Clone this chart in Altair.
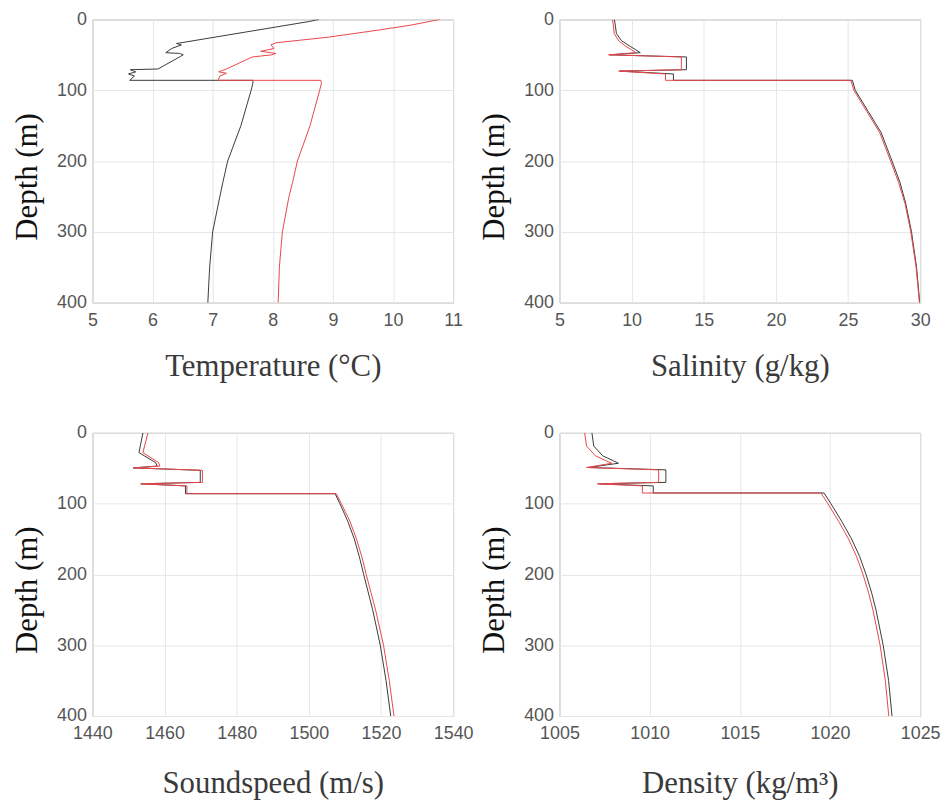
import altair as alt
import pandas as pd

# ---------------- data ----------------
# Temperature (°C)
temp_depth_black = [0, 3, 34, 36, 41, 47, 48, 50, 53, 70, 71, 74, 77, 80, 86, 86, 90, 100, 150, 200, 230, 250, 300, 350, 400]
temp_black = [8.77, 8.6, 6.40, 6.48, 6.32, 6.22, 6.45, 6.51, 6.45, 6.09, 5.63, 5.72, 5.60, 5.70, 5.62, 7.67, 7.67, 7.64, 7.47, 7.25, 7.17, 7.12, 7.00, 6.95, 6.92]
temp_depth_red = [0, 8, 15, 25, 33, 36, 41, 45, 48, 50, 53, 70, 74, 76, 80, 86, 86, 90, 100, 150, 200, 230, 250, 300, 350, 400]
temp_red = [10.78, 10.3, 9.76, 8.93, 8.05, 7.97, 8.02, 7.80, 8.05, 7.98, 7.66, 7.23, 7.10, 7.23, 7.12, 7.09, 8.80, 8.81, 8.78, 8.62, 8.41, 8.33, 8.27, 8.16, 8.11, 8.09]

# Salinity (g/kg)
sal_depth = [0, 20, 30, 38, 43, 47, 50, 53, 71, 73, 77, 86, 86, 100, 130, 160, 200, 230, 260, 300, 350, 400]
sal_black = [8.81, 8.95, 9.3, 9.9, 10.3, 10.6, 8.5, 13.8, 13.8, 9.2, 12.9, 12.9, 25.3, 25.5, 26.4, 27.3, 28.05, 28.6, 29.0, 29.4, 29.75, 29.97]
sal_red = [8.68, 8.8, 9.1, 9.6, 10.0, 10.3, 8.4, 13.45, 13.45, 9.1, 12.35, 12.35, 25.2, 25.4, 26.3, 27.2, 27.95, 28.5, 28.95, 29.35, 29.72, 29.95]

# Soundspeed (m/s)
ss_depth = [0, 28, 42, 47, 49.5, 53, 70, 72, 75, 86, 86, 100, 125, 150, 175, 200, 250, 300, 350, 400]
ss_black = [1454.0, 1452.9, 1457.5, 1458.0, 1451.3, 1469.9, 1469.9, 1453.4, 1465.8, 1465.8, 1507.3, 1508.6, 1510.8, 1512.6, 1514.0, 1515.2, 1517.7, 1519.8, 1521.4, 1522.7]
ss_red = [1455.4, 1454.0, 1458.3, 1458.7, 1451.5, 1470.5, 1470.5, 1453.5, 1466.2, 1466.2, 1507.6, 1509.0, 1511.4, 1513.2, 1514.7, 1515.9, 1518.5, 1520.7, 1522.3, 1523.6]

# Density (kg/m3)
den_depth = [0, 18.6, 32.6, 39.6, 43, 49, 52.3, 70, 72, 75, 85, 85, 100, 125, 150, 175, 200, 225, 250, 300, 350, 400]
den_black = [1006.8, 1006.9, 1007.4, 1008.0, 1008.27, 1006.6, 1010.9, 1010.9, 1007.2, 1010.2, 1010.2, 1019.67, 1020.05, 1020.65, 1021.2, 1021.65, 1022.0, 1022.3, 1022.55, 1022.95, 1023.25, 1023.44]
den_red = [1006.4, 1006.5, 1007.0, 1007.6, 1007.9, 1006.5, 1010.5, 1010.5, 1007.1, 1009.6, 1009.6, 1019.5, 1019.88, 1020.48, 1021.03, 1021.48, 1021.83, 1022.13, 1022.38, 1022.78, 1023.07, 1023.26]

depth_ticks = [0, 100, 200, 300, 400]
temp_ticks = [5, 6, 7, 8, 9, 10, 11]
sal_ticks = [5, 10, 15, 20, 25, 30]
ss_ticks = [1440, 1460, 1480, 1500, 1520, 1540]
den_ticks = [1005, 1010, 1015, 1020, 1025]

series_names = ["black", "red"]
series_colors = ["#3a3a3a", "#e8474a"]


def frame(d_black, v_black, d_red, v_red):
    rows = []
    for name, ds, vs in (("black", d_black, v_black), ("red", d_red, v_red)):
        for i, (d, v) in enumerate(zip(ds, vs)):
            rows.append({"series": name, "depth": d, "value": v, "i": i})
    return pd.DataFrame(rows)


W, H = 363, 285


def panel(df, xdomain, xticks, xtitle, title_pad):
    return alt.Chart(df).mark_line(strokeWidth=1, clip=True).encode(
        x=alt.X("value:Q",
                scale=alt.Scale(domain=xdomain, nice=False, zero=False),
                axis=alt.Axis(values=xticks, format="d", title=xtitle,
                              titleColor="#3a3a3a", labelPadding=9, titlePadding=title_pad)),
        y=alt.Y("depth:Q",
                scale=alt.Scale(domain=[0, 400], reverse=True, nice=False, zero=False),
                axis=alt.Axis(values=depth_ticks, format="d", title="Depth (m)",
                              titleColor="#111111", labelPadding=6, titlePadding=13,
                              titleY=158)),
        color=alt.Color("series:N", scale=alt.Scale(domain=series_names, range=series_colors),
                        legend=None),
        order=alt.Order("i:Q"),
    ).properties(width=W, height=H)


tl = panel(frame(temp_depth_black, temp_black, temp_depth_red, temp_red), [5, 11], temp_ticks, "Temperature (°C)", 22)
tr = panel(frame(sal_depth, sal_black, sal_depth, sal_red), [5, 30], sal_ticks, "Salinity (g/kg)", 22)
bl = panel(frame(ss_depth, ss_black, ss_depth, ss_red), [1440, 1540], ss_ticks, "Soundspeed (m/s)", 26)
br = panel(frame(den_depth, den_black, den_depth, den_red), [1005, 1025], den_ticks, "Density (kg/m³)", 26)

chart = alt.concat(
    tl, tr, bl, br,
    columns=2,
    spacing={"row": 131, "column": 107},
    bounds="flush",
).properties(
    padding={"left": 11, "top": 7, "right": 5, "bottom": 5},
    background="white",
).configure_axis(
    labelFont="Liberation Sans",
    labelFontSize=18,
    labelColor="#555555",
    titleFont="Liberation Serif",
    titleFontSize=31,
    titleFontWeight="normal",
    grid=True,
    gridColor="#e6e6e6",
    gridWidth=1,
    domain=False,
    ticks=False,
    labelFlush=False,
).configure_view(
    stroke="#a8a8a8",
    strokeWidth=1,
)

chart.save("out.html", embed_options={"renderer": "svg", "actions": False})
